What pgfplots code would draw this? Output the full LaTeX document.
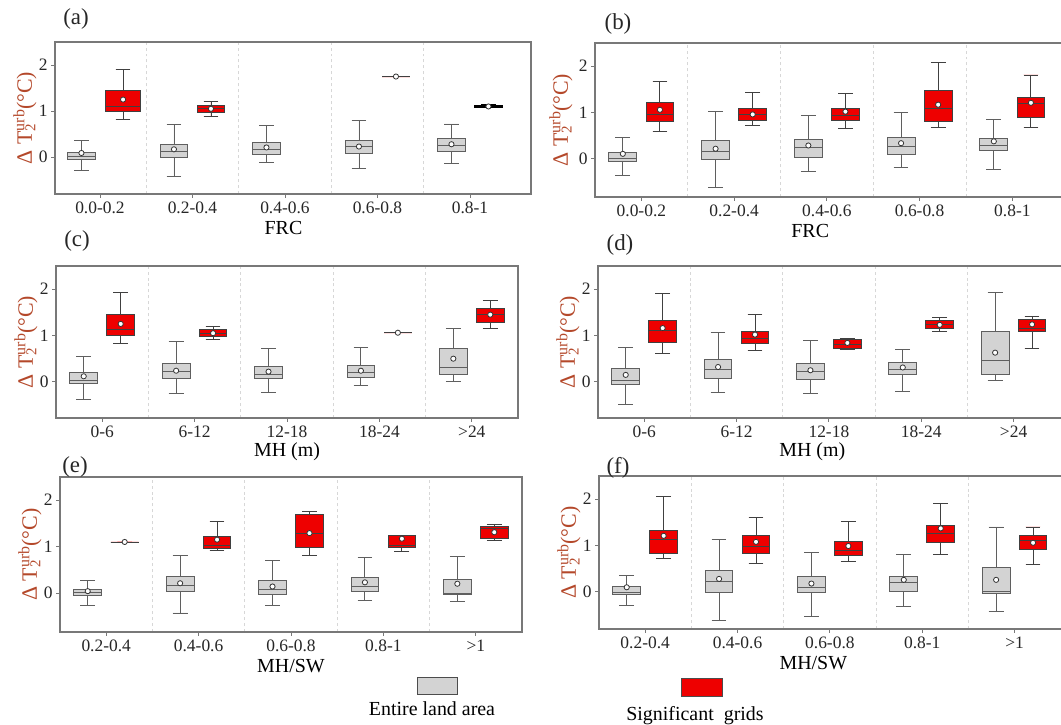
\documentclass[border=0pt]{standalone}
\usepackage{pgfplots}
\pgfplotsset{compat=1.18}
\usepgfplotslibrary{statistics}
\usepackage{fontspec}
\setmainfont{Liberation Serif}
\definecolor{boxred}{RGB}{238,0,0}
\definecolor{boxgray}{RGB}{211,211,211}
\definecolor{edgegray}{RGB}{95,95,95}
\definecolor{framegray}{RGB}{120,120,120}
\definecolor{labred}{RGB}{180,72,42}
\definecolor{sepgray}{RGB}{215,215,215}

\newcommand{\ylab}{\textcolor{labred}{Δ T\rlap{\raisebox{-0.35ex}{\fontsize{15}{16}\selectfont 2}}\raisebox{0.75ex}{\fontsize{16}{17}\selectfont urb}(°C)}}

\pgfplotsset{
  meanstyle/.style={only marks, mark=*, mark size=2.6bp, mark options={fill=white, draw=black!80, line width=0.8bp}},
  panel/.style={
    scale only axis,
    boxplot/draw direction=y,
    xmin=-0.5, xmax=4.5, ymin=-0.8, ymax=2.5,
    xtick={0,1,2,3,4}, ytick={0,1,2},
    minor xtick={0.5,1.5,2.5,3.5}, xminorgrids,
    minor grid style={dashed, sepgray, line width=0.8bp},
    minor tick length=0pt,
    tick align=outside, tick pos=left, major tick length=4bp,
    axis line style={framegray, line width=1.1bp},
    every tick/.style={framegray, line width=0.9bp},
    tick label style={font=\fontsize{17.5}{19}\selectfont, text=black!85},
    /pgf/number format/assume math mode=true,
    label style={font=\fontsize{20}{22}\selectfont},
    ylabel={\ylab},
    ylabel style={at={(axis description cs:0,0.5)}, anchor=center, yshift=30bp, font=\fontsize{22}{24}\selectfont},
    xlabel style={at={(axis description cs:0.5,0)}, anchor=center, yshift=-34bp},
  }
}

% box: pos, lower whisker, lower quartile, median, upper quartile, upper whisker, mean
\newcommand{\gb}[7]{%
  \addplot[draw=edgegray, fill=boxgray, line width=0.9bp,
    boxplot prepared={draw position=#1, lower whisker=#2, lower quartile=#3,
      median=#4, upper quartile=#5, upper whisker=#6, box extend=0.3, whisker extend=0.16}]
    coordinates {};
  \addplot[meanstyle] coordinates {(#1,#7)};
}
\newcommand{\rb}[7]{%
  \addplot[draw=black!75, fill=boxred, line width=0.9bp,
    boxplot prepared={draw position=#1, lower whisker=#2, lower quartile=#3,
      median=#4, upper quartile=#5, upper whisker=#6, box extend=0.3, whisker extend=0.16}]
    coordinates {};
  \addplot[meanstyle] coordinates {(#1,#7)};
}

\begin{document}
\begin{tikzpicture}[x=1bp,y=1bp]
\useasboundingbox (0,0) rectangle (1061,725);

% ---------------- (a)
\begin{axis}[panel, at={(55bp,531bp)}, anchor=south west, width=476bp, height=152bp,
  xmin=-0.486, xmax=4.66,
  xticklabels={0.0-0.2,0.2-0.4,0.4-0.6,0.6-0.8,0.8-1}, xlabel={FRC},
  xlabel style={at={(axis description cs:0.48,0)}}]
\gb{-0.2}{-0.28}{-0.06}{0.01}{0.11}{0.36}{0.09}
\addplot[draw=black!75, fill=boxred, line width=0.9bp,
  boxplot prepared={draw position=0.25, lower whisker=0.81, lower quartile=1.00,
    median=1.11, upper quartile=1.44, upper whisker=1.90, box extend=0.38, whisker extend=0.16}]
  coordinates {};
\addplot[meanstyle] coordinates {(0.25,1.25)};
\gb{0.8}{-0.41}{-0.01}{0.13}{0.28}{0.71}{0.17}
\rb{1.2}{0.89}{0.97}{1.05}{1.12}{1.20}{1.05}
\gb{1.8}{-0.12}{0.06}{0.17}{0.31}{0.68}{0.21}
\gb{2.8}{-0.24}{0.09}{0.23}{0.37}{0.79}{0.23}
\rb{3.2}{1.75}{1.75}{1.75}{1.75}{1.75}{1.75}
\gb{3.8}{-0.13}{0.12}{0.25}{0.40}{0.72}{0.28}
\addplot[draw=black, fill=boxred, line width=1.6bp,
  boxplot prepared={draw position=4.2, lower whisker=1.08, lower quartile=1.09,
    median=1.10, upper quartile=1.12, upper whisker=1.13, box extend=0.3, whisker extend=0.16}]
  coordinates {};
\addplot[meanstyle] coordinates {(4.2,1.10)};
\end{axis}

% ---------------- (b)
\begin{axis}[panel, at={(595bp,528bp)}, anchor=south west, width=473bp, height=154bp,
  xmin=-0.5, xmax=4.6, ymin=-0.82,
  xticklabels={0.0-0.2,0.2-0.4,0.4-0.6,0.6-0.8,0.8-1}, xlabel={FRC},
  xlabel style={at={(axis description cs:0.455,0)}},
  ylabel style={yshift=4bp}]
\gb{-0.2}{-0.36}{-0.06}{0.01}{0.15}{0.47}{0.11}
\rb{0.2}{0.60}{0.80}{0.95}{1.22}{1.68}{1.06}
\gb{0.8}{-0.61}{-0.02}{0.16}{0.40}{1.03}{0.22}
\rb{1.2}{0.73}{0.82}{0.95}{1.08}{1.44}{0.96}
\gb{1.8}{-0.27}{0.04}{0.24}{0.43}{0.94}{0.29}
\rb{2.2}{0.65}{0.84}{0.94}{1.09}{1.42}{1.02}
\gb{2.8}{-0.18}{0.09}{0.27}{0.46}{1.01}{0.34}
\rb{3.2}{0.68}{0.80}{1.08}{1.47}{2.09}{1.17}
\gb{3.8}{-0.23}{0.18}{0.29}{0.45}{0.85}{0.38}
\rb{4.2}{0.67}{0.90}{1.19}{1.33}{1.81}{1.21}
\end{axis}

% ---------------- (c)
\begin{axis}[panel, at={(56bp,307bp)}, anchor=south west, width=462bp, height=152bp,
  ymin=-0.78,
  xticklabels={0-6,6-12,12-18,18-24,>24}, xlabel={MH (m)}]
\gb{-0.2}{-0.39}{-0.04}{0.04}{0.20}{0.55}{0.12}
\rb{0.2}{0.82}{1.00}{1.13}{1.45}{1.93}{1.25}
\gb{0.8}{-0.25}{0.07}{0.22}{0.40}{0.87}{0.24}
\rb{1.2}{0.92}{0.98}{1.05}{1.13}{1.19}{1.05}
\gb{1.8}{-0.22}{0.07}{0.17}{0.33}{0.72}{0.22}
\gb{2.8}{-0.07}{0.10}{0.20}{0.36}{0.75}{0.24}
\rb{3.2}{1.06}{1.06}{1.06}{1.06}{1.06}{1.06}
\gb{3.8}{0.00}{0.17}{0.31}{0.73}{1.15}{0.50}
\rb{4.2}{1.15}{1.29}{1.45}{1.59}{1.76}{1.45}
\end{axis}

% ---------------- (d)
\begin{axis}[panel, at={(598bp,307bp)}, anchor=south west, width=471bp, height=152bp,
  xmin=-0.5, xmax=4.6, ymin=-0.78,
  xticklabels={0-6,6-12,12-18,18-24,>24}, xlabel={MH (m)},
  xlabel style={at={(axis description cs:0.455,0)}}]
\gb{-0.2}{-0.49}{-0.05}{0.02}{0.28}{0.74}{0.15}
\rb{0.2}{0.61}{0.84}{1.11}{1.33}{1.91}{1.16}
\gb{0.8}{-0.22}{0.08}{0.27}{0.49}{1.06}{0.32}
\rb{1.2}{0.68}{0.82}{0.93}{1.08}{1.45}{1.02}
\gb{1.8}{-0.26}{0.06}{0.23}{0.39}{0.90}{0.25}
\rb{2.2}{0.70}{0.71}{0.81}{0.92}{0.94}{0.84}
\gb{2.8}{-0.20}{0.16}{0.27}{0.42}{0.69}{0.31}
\rb{3.2}{1.08}{1.15}{1.24}{1.32}{1.38}{1.23}
\gb{3.8}{0.03}{0.17}{0.47}{1.09}{1.92}{0.63}
\rb{4.2}{0.73}{1.08}{1.16}{1.35}{1.41}{1.24}
\end{axis}

% ---------------- (e)
\begin{axis}[panel, at={(60bp,93bp)}, anchor=south west, width=462bp, height=155bp,
  ymin=-0.84,
  xticklabels={0.2-0.4,0.4-0.6,0.6-0.8,0.8-1,>1}, xlabel={MH/SW}]
\gb{-0.2}{-0.26}{-0.05}{0.01}{0.08}{0.27}{0.04}
\rb{0.2}{1.10}{1.10}{1.10}{1.10}{1.10}{1.10}
\gb{0.8}{-0.43}{0.04}{0.17}{0.36}{0.81}{0.21}
\rb{1.2}{0.92}{0.96}{1.03}{1.22}{1.55}{1.15}
\gb{1.8}{-0.27}{-0.04}{0.07}{0.27}{0.70}{0.14}
\rb{2.2}{0.80}{0.99}{1.29}{1.70}{1.75}{1.29}
\gb{2.8}{-0.17}{0.04}{0.15}{0.33}{0.76}{0.23}
\rb{3.2}{0.90}{0.98}{1.03}{1.23}{1.23}{1.17}
\gb{3.8}{-0.18}{-0.04}{-0.02}{0.30}{0.78}{0.20}
\rb{4.2}{1.13}{1.18}{1.39}{1.43}{1.48}{1.31}
\end{axis}

% ---------------- (f)
\begin{axis}[panel, at={(599bp,96bp)}, anchor=south west, width=471bp, height=153bp,
  xmin=-0.5, xmax=4.6, ymin=-0.80,
  xticklabels={0.2-0.4,0.4-0.6,0.6-0.8,0.8-1,>1}, xlabel={MH/SW},
  xlabel style={at={(axis description cs:0.455,0)}}]
\gb{-0.2}{-0.30}{-0.06}{-0.01}{0.12}{0.36}{0.10}
\rb{0.2}{0.72}{0.84}{1.14}{1.33}{2.06}{1.21}
\gb{0.8}{-0.61}{-0.01}{0.23}{0.47}{1.14}{0.28}
\rb{1.2}{0.61}{0.84}{0.98}{1.21}{1.60}{1.08}
\gb{1.8}{-0.52}{-0.01}{0.09}{0.33}{0.86}{0.18}
\rb{2.2}{0.66}{0.78}{0.90}{1.08}{1.52}{0.99}
\gb{2.8}{-0.31}{0.01}{0.21}{0.33}{0.81}{0.26}
\rb{3.2}{0.81}{1.07}{1.25}{1.43}{1.90}{1.37}
\gb{3.8}{-0.42}{-0.04}{0.02}{0.53}{1.40}{0.26}
\rb{4.2}{0.60}{0.91}{1.11}{1.21}{1.40}{1.06}
\end{axis}

% panel labels
\begin{scope}[every node/.style={font=\fontsize{23}{25}\selectfont, text=black!85}]
\node at (76,706) {(a)};
\node at (618,701) {(b)};
\node at (77,484) {(c)};
\node at (620,480) {(d)};
\node at (75,258) {(e)};
\node at (618,257) {(f)};
\end{scope}

% legend
\draw[black!70, fill=boxgray, line width=0.8bp] (417,31) rectangle (457,48);
\node[font=\fontsize{20}{22}\selectfont] at (432,16) {Entire land area};
\draw[black!70, fill=boxred, line width=0.8bp] (681,29) rectangle (722,47);
\node[font=\fontsize{20}{22}\selectfont] at (695,9) {Significant\ \ grids};
\end{tikzpicture}
\end{document}
